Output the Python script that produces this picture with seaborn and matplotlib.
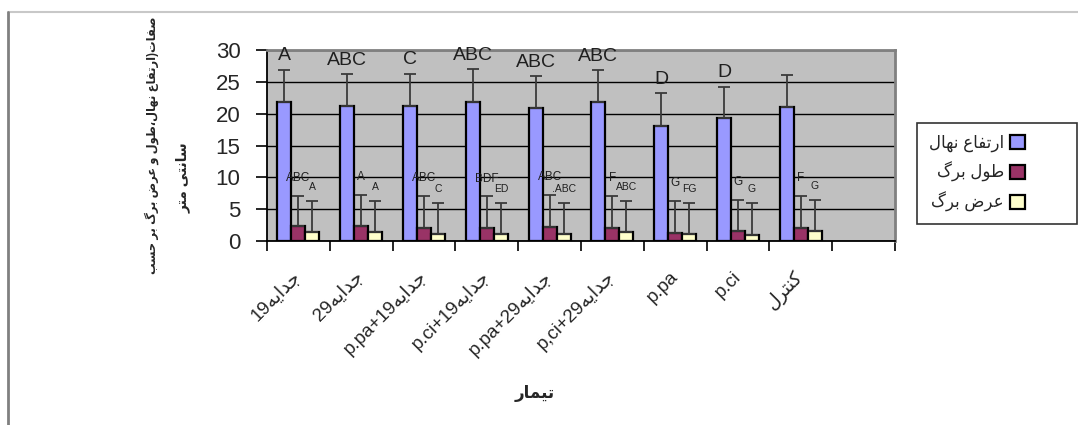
import re
import pandas as pd
import matplotlib
matplotlib.use("Agg")
import matplotlib.pyplot as plt
import seaborn as sns
from matplotlib.lines import Line2D
from matplotlib.ticker import FixedLocator

# --- data ---
treatments = ["جدایه19", "جدایه29", "جدایهp.pa+19", "جدایهp.ci+19",
              "جدایهp.pa+29", "جدایهp,ci+29", "p.pa", "p.ci", "کنترل"]
series_names = ["ارتفاع نهال", "طول برگ", "عرض برگ"]

height_vals = [21.9, 21.2, 21.2, 21.8, 20.9, 21.8, 18.1, 19.3, 21.1]
height_err = [5.0, 5.0, 5.1, 5.2, 5.0, 5.0, 5.1, 4.9, 5.0]
length_vals = [2.35, 2.3, 2.0, 2.0, 2.15, 2.0, 1.3, 1.55, 2.1]
length_err = [4.75, 4.9, 5.1, 5.0, 5.05, 5.1, 5.0, 4.85, 5.0]
width_vals = [1.45, 1.45, 1.1, 1.1, 1.1, 1.4, 1.1, 0.9, 1.55]
width_err = [4.85, 4.85, 4.9, 4.9, 4.9, 4.9, 4.8, 5.0, 4.95]

height_letters = ["A", "ABC", "C", "ABC", "ABC", "ABC", "D", "D", ""]
length_letters = ["ABC", "A", "ABC", "BDF", "ABC", "F", "G", "G", "F"]
width_letters = ["A", "A", "C", "ED", ".ABC", "ABC", "FG", "G", "G"]

y_label_1 = "صفات(ارتفاع نهال،طول و عرض برگ بر حسب"
y_label_2 = "سانتی متر"
x_label = "تیمار"

# --- tiny persian shaper (matplotlib has no RTL / joining support) ---
FORMS = {
    'ا': ('\uFE8D', '\uFE8E', None, None),
    'ب': ('\uFE8F', '\uFE90', '\uFE91', '\uFE92'),
    'ت': ('\uFE95', '\uFE96', '\uFE97', '\uFE98'),
    'ج': ('\uFE9D', '\uFE9E', '\uFE9F', '\uFEA0'),
    'ح': ('\uFEA1', '\uFEA2', '\uFEA3', '\uFEA4'),
    'د': ('\uFEA9', '\uFEAA', None, None),
    'ر': ('\uFEAD', '\uFEAE', None, None),
    'س': ('\uFEB1', '\uFEB2', '\uFEB3', '\uFEB4'),
    'ص': ('\uFEB9', '\uFEBA', '\uFEBB', '\uFEBC'),
    'ض': ('\uFEBD', '\uFEBE', '\uFEBF', '\uFEC0'),
    'ط': ('\uFEC1', '\uFEC2', '\uFEC3', '\uFEC4'),
    'ع': ('\uFEC9', '\uFECA', '\uFECB', '\uFECC'),
    'ف': ('\uFED1', '\uFED2', '\uFED3', '\uFED4'),
    'ل': ('\uFEDD', '\uFEDE', '\uFEDF', '\uFEE0'),
    'م': ('\uFEE1', '\uFEE2', '\uFEE3', '\uFEE4'),
    'ن': ('\uFEE5', '\uFEE6', '\uFEE7', '\uFEE8'),
    'ه': ('\uFEE9', '\uFEEA', '\uFEEB', '\uFEEC'),
    'و': ('\uFEED', '\uFEEE', None, None),
    'ی': ('\uFBFC', '\uFBFD', '\uFBFE', '\uFBFF'),
    'ک': ('\uFB8E', '\uFB8F', '\uFB90', '\uFB91'),
    'گ': ('\uFB92', '\uFB93', '\uFB94', '\uFB95'),
}
MIRROR = str.maketrans("()", ")(")


def shape(word):
    out = []
    for i, ch in enumerate(word):
        if ch not in FORMS:
            out.append(ch)
            continue
        prev = word[i - 1] if i > 0 else ''
        nxt = word[i + 1] if i + 1 < len(word) else ''
        iso, fin, ini, med = FORMS[ch]
        j_prev = prev in FORMS and FORMS[prev][2] is not None
        j_next = nxt in FORMS and ini is not None
        if j_prev and j_next:
            out.append(med)
        elif j_prev:
            out.append(fin)
        elif j_next:
            out.append(ini)
        else:
            out.append(iso)
    return ''.join(out)


def fa(text):
    runs = re.findall(r'[\u0600-\u06FF\s()]+|[^\u0600-\u06FF\s()]+', text)
    vis = []
    for r in runs:
        if re.search(r'[\u0600-\u06FF]', r):
            vis.append(shape(r)[::-1].translate(MIRROR))
        else:
            vis.append(r)
    return ''.join(vis[::-1])


# --- long table for seaborn ---
tick_text = [fa(t) for t in treatments]
names = [fa(s) for s in series_names]
rows = []
for vals, errs, name in [(height_vals, height_err, names[0]),
                         (length_vals, length_err, names[1]),
                         (width_vals, width_err, names[2])]:
    for t, v, e in zip(tick_text, vals, errs):
        rows.append({"treatment": t, "series": name, "value": v, "err": e})
df = pd.DataFrame(rows)

sns.set_style("ticks")
plt.rcParams['font.family'] = ['Liberation Sans', 'DejaVu Sans']

fig = plt.figure(figsize=(10.78, 4.25), dpi=100)
ax = fig.add_axes([267 / 1078, 1 - 241 / 425, 628 / 1078, 191 / 425])
ax.set_facecolor('#C0C0C0')

palette = {names[0]: '#9999FF', names[1]: '#993366', names[2]: '#FFFFCC'}
sns.barplot(data=df, x="treatment", y="value", hue="series", order=tick_text,
            hue_order=names, palette=palette, errorbar=None, width=0.67,
            edgecolor='black', linewidth=1.6, ax=ax, zorder=3, saturation=1)

# plus-only error bars and letter labels on top of each bar
err_lists = [height_err, length_err, width_err]
letter_lists = [height_letters, length_letters, width_letters]
letter_sizes = [14, 8.5, 7.5]
letter_pads = [2.2, 2.8, 2.2]
for cont, errs, letters, fs, pad in zip(ax.containers, err_lists, letter_lists,
                                        letter_sizes, letter_pads):
    xs = [b.get_x() + b.get_width() / 2 for b in cont]
    ys = [b.get_height() for b in cont]
    ax.errorbar(xs, ys, yerr=[[0] * len(errs), errs], fmt='none',
                ecolor='#3a3a3a', elinewidth=1.3, capsize=4.3, capthick=1.3,
                zorder=4)
    for x, y, e, lab in zip(xs, ys, errs, letters):
        ax.text(x, y + e + pad, lab, ha='center', va='center', fontsize=fs,
                color='#202020', zorder=5)

ax.set_ylim(0, 30)
ax.set_yticks(range(0, 31, 5))
ax.set_xlim(-0.5, 9.5)
ax.yaxis.grid(True, color='black', linewidth=1)
ax.set_axisbelow(True)
ax.set_xlabel('')
ax.set_ylabel('')

# category boundaries carry the tick marks, centres carry the labels
ax.xaxis.set_minor_locator(FixedLocator([i - 0.5 for i in range(11)]))
ax.tick_params(axis='x', which='major', length=0, pad=24, labelsize=13.5)
ax.tick_params(axis='x', which='minor', length=7, width=1.2, color='black',
               direction='out')
ax.tick_params(axis='y', length=8, width=1.2, color='black', direction='out',
               pad=11, labelsize=16)
for lab in ax.get_xticklabels():
    lab.set_rotation(45)
    lab.set_ha('right')
    lab.set_va('center')
    lab.set_rotation_mode('anchor')

for side in ['left', 'bottom']:
    ax.spines[side].set_color('black')
    ax.spines[side].set_linewidth(1.3)
for side in ['top', 'right']:
    ax.spines[side].set_color('#808080')
    ax.spines[side].set_linewidth(2)

leg = ax.legend(loc='upper left',
                bbox_to_anchor=(917 / 1078, 1 - 203 / 425, 160 / 1078, 80 / 425),
                bbox_transform=fig.transFigure, mode='expand',
                markerfirst=False, fontsize=12, frameon=True, fancybox=False,
                edgecolor='black', handlelength=0.9, handleheight=0.9,
                handletextpad=0.4, labelspacing=0.6, borderpad=0.7,
                borderaxespad=0)
leg.get_frame().set_linewidth(1.2)

fig.text(152 / 1078, 1 - 145 / 425, fa(y_label_1), rotation=90, ha='center',
         va='center', fontsize=8.3, fontweight='bold')
fig.text(183 / 1078, 1 - 178 / 425, fa(y_label_2), rotation=90, ha='center',
         va='center', fontsize=10, fontweight='bold')
fig.text(535 / 1078, 1 - 393 / 425, fa(x_label), ha='center', va='center',
         fontsize=12, fontweight='bold')

# outer chart border (top and left edges only are visible)
fig.add_artist(Line2D([8 / 1078, 1], [1 - 12 / 425] * 2, color='#c8c8c8',
                      linewidth=1.5, transform=fig.transFigure))
fig.add_artist(Line2D([8 / 1078] * 2, [0, 1 - 12 / 425], color='#808080',
                      linewidth=2, transform=fig.transFigure))

fig.savefig("out.png", dpi=100)
